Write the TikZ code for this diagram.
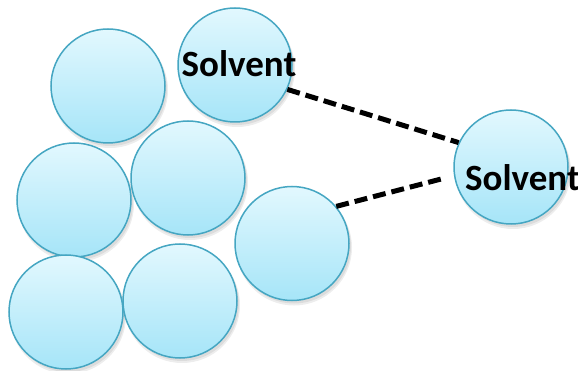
\documentclass[tikz,border=0pt]{standalone}
\usepackage{fontspec}
\setmainfont{Carlito}
\begin{document}
\begin{tikzpicture}[x=1pt,y=-1pt,
  ball/.style={circle,minimum size=114pt,inner sep=0pt,draw=ringcol,line width=1.5pt,
    top color=ballTop,bottom color=ballBot},
  shad/.style={circle,minimum size=114pt,inner sep=0pt,fill=black,fill opacity=0.07,draw=none},
  link/.style={line width=5pt,dash pattern=on 13pt off 6pt,black},
  lab/.style={font=\bfseries\fontsize{37}{37}\selectfont,inner sep=0pt,text=black}]
\definecolor{ringcol}{HTML}{45A6C2}
\definecolor{ballTop}{HTML}{E2F8FE}
\definecolor{ballBot}{HTML}{A6E5F8}
\useasboundingbox (0,0) rectangle (578,371);
\begin{scope}
\clip (0,0) rectangle (578,371);
% shadows
\foreach \cx/\cy in {108/86,235/65,74/200,188/178,66/312,180/301,292/243.5,511/167}{
  \node[shad] at (\cx+2,\cy+3) {};
  \node[shad,minimum size=116pt] at (\cx+2,\cy+4) {};
}
% balls
\node[ball] (b1) at (108,86) {};
\node[ball] (b2) at (235,65) {};
\node[ball] (b3) at (74,200) {};
\node[ball] (b4) at (188,178) {};
\node[ball] (b5) at (66,312) {};
\node[ball] (b6) at (180,301) {};
\node[ball] (b7) at (292,243.5) {};
\node[ball] (b8) at (511,167) {};
% connectors
\coordinate (e2) at (445,178);
\draw[link] (b2.-25) -- (b8.155);
\draw[link] (b7.40) -- (e2);
\node[lab] (t1) at (239,64) {Solvent};
\node[lab,anchor=west] (t2) at (465,178) {Solvent};
\end{scope}
\end{tikzpicture}
\end{document}
